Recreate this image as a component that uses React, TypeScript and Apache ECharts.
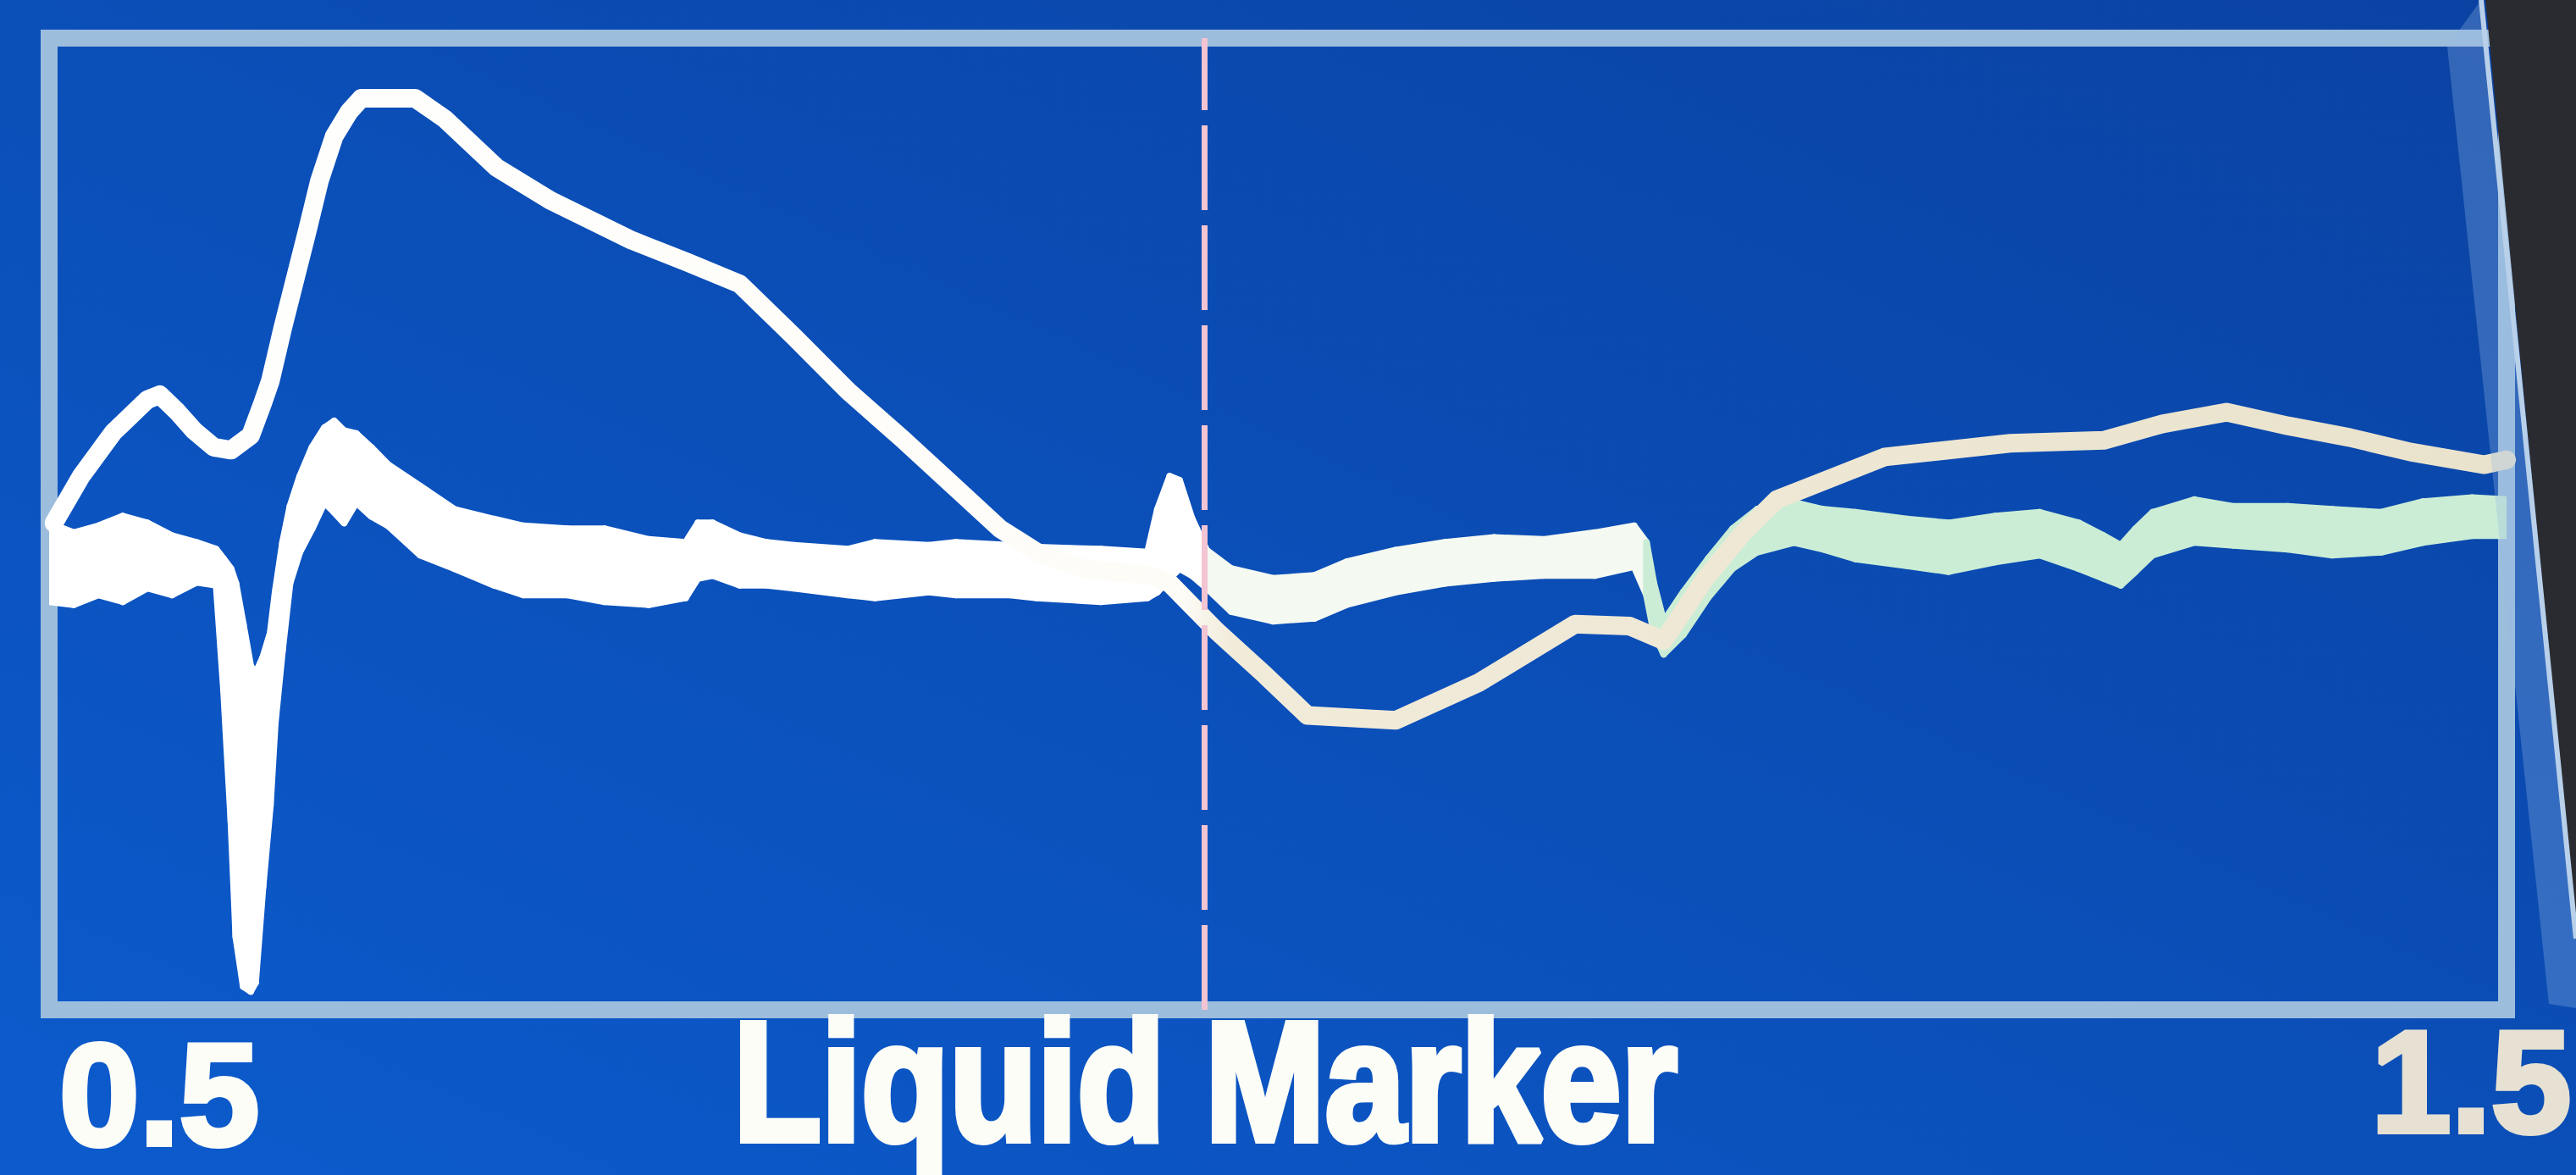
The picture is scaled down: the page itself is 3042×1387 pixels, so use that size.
import React, { useEffect, useRef } from "react";
import * as echarts from "echarts";

const W = 3042;
const H = 1387;

// Axis texts
const xTickLabels = ["0.5", "1.5"];
const axisTitle = "Liquid Marker";
const xRange = [0.5, 1.5];
const yRange = [0, 100];
const markerX = [0.966];

// Smooth trace (large peak)
const peakX = [
  0.502, 0.513, 0.526, 0.54, 0.545, 0.552, 0.559, 0.567, 0.574, 0.582, 0.587, 0.59, 0.595, 0.605,
  0.61, 0.616, 0.622, 0.627, 0.649, 0.661, 0.682, 0.704, 0.737, 0.759, 0.781, 0.803, 0.825, 0.847,
  0.869, 0.887, 0.902, 0.921, 0.948, 0.956, 0.975, 0.995, 1.012, 1.048, 1.082, 1.121, 1.143, 1.157,
  1.174, 1.189, 1.203, 1.223, 1.247, 1.298, 1.336, 1.36, 1.386, 1.411, 1.436, 1.461, 1.491, 1.5,
];
const peakY = [
  50.1, 54.9, 59.4, 62.8, 63.3, 61.6, 59.6, 57.9, 57.6, 59.1, 62.5, 64.7, 70.1, 80.1,
  85.3, 89.9, 92.4, 93.8, 93.8, 91.7, 86.7, 83.3, 79.2, 77.0, 74.7, 69.3, 63.7, 58.8,
  53.7, 49.5, 47.1, 45.4, 44.7, 43.9, 39.0, 34.4, 30.3, 29.8, 33.7, 39.7, 39.5, 38.0,
  44.4, 49.0, 52.5, 54.5, 56.9, 58.3, 58.6, 60.3, 61.5, 60.1, 58.9, 57.4, 56.1, 56.6,
];

// Noisy trace, read as an upper and a lower envelope
const bandX = [
  0.5, 0.51, 0.52, 0.53, 0.54, 0.55, 0.56, 0.568, 0.571, 0.574, 0.576, 0.579, 0.582, 0.584, 0.587,
  0.59, 0.592, 0.595, 0.598, 0.602, 0.607, 0.612, 0.616, 0.62, 0.625, 0.631, 0.638, 0.651, 0.665,
  0.681, 0.693, 0.711, 0.726, 0.744, 0.759, 0.764, 0.77, 0.781, 0.792, 0.803, 0.825, 0.836, 0.858,
  0.869, 0.891, 0.902, 0.928, 0.947, 0.951, 0.956, 0.96, 0.965, 0.971, 0.981, 0.998, 1.015, 1.028,
  1.048, 1.068, 1.088, 1.108, 1.129, 1.145, 1.15, 1.153, 1.157, 1.165, 1.175, 1.185, 1.195, 1.21,
  1.222, 1.235, 1.256, 1.273, 1.292, 1.31, 1.326, 1.336, 1.343, 1.349, 1.356, 1.373, 1.389, 1.411,
  1.429, 1.449, 1.466, 1.486, 1.5,
];
const bandUpper = [
  50.1, 49.1, 49.8, 50.8, 50.1, 48.8, 48.1, 47.4, 46.4, 45.4, 43.9, 39.7, 35.4, 34.6, 36.3,
  38.8, 43.0, 48.1, 51.8, 54.9, 57.9, 59.9, 60.6, 59.6, 59.3, 57.9, 56.1, 53.9, 51.5,
  50.5, 49.8, 49.5, 49.5, 48.4, 48.1, 50.1, 50.1, 48.8, 48.1, 47.8, 47.4, 48.1, 47.8,
  48.1, 47.8, 47.6, 47.4, 47.1, 51.5, 54.9, 54.5, 50.6, 47.3, 45.4, 44.4, 44.7, 46.1,
  47.3, 48.1, 48.6, 48.4, 49.1, 49.8, 48.1, 43.9, 40.0, 43.0, 46.4, 49.5, 51.5, 52.2,
  51.5, 51.2, 50.5, 50.1, 50.8, 51.2, 50.1, 48.8, 47.8, 49.5, 51.2, 52.5, 51.8, 51.8,
  51.5, 51.2, 52.3, 52.7, 52.5,
];
const bandLower = [
  42.0, 41.7, 42.7, 42.0, 43.4, 42.7, 44.0, 43.7, 32.9, 19.4, 7.5, 2.4, 1.9, 2.8, 12.6,
  21.0, 29.5, 37.1, 43.9, 47.1, 49.5, 52.2, 51.2, 50.1, 52.2, 50.8, 49.8, 46.8, 45.4,
  43.7, 42.7, 42.7, 42.0, 41.7, 42.4, 44.4, 44.7, 43.7, 43.7, 43.4, 42.7, 42.4, 43.0,
  42.7, 42.7, 42.4, 42.0, 42.4, 43.0, 44.4, 45.4, 44.7, 43.4, 41.0, 40.0, 40.3, 41.7,
  43.0, 43.9, 44.4, 44.7, 44.7, 45.6, 42.7, 38.8, 36.6, 38.6, 42.4, 45.4, 47.1, 48.1,
  47.4, 46.4, 45.7, 45.1, 46.1, 46.8, 45.4, 44.4, 43.7, 45.1, 46.8, 48.1, 47.8, 47.4,
  46.8, 47.1, 48.1, 48.8, 48.8,
];

function bandColor(x: number) {
  if (x < 0.97) return "#ffffff";
  if (x < 1.15) return "#f4f9f1";
  return "#cbedd6";
}

export default function App() {
  const ref = useRef<HTMLDivElement>(null);

  useEffect(() => {
    if (!ref.current) return;
    const chart = echarts.init(ref.current, null, { renderer: "svg", width: W, height: H });

    const renderBand = (params: any, api: any) => {
      const i = params.dataIndex;
      if (i >= bandX.length - 1) return { type: "group", children: [] };
      const x0 = api.value(0);
      const p1 = api.coord([x0, api.value(1)]);
      const p2 = api.coord([bandX[i + 1], bandUpper[i + 1]]);
      const p3 = api.coord([bandX[i + 1], bandLower[i + 1]]);
      const p4 = api.coord([x0, api.value(2)]);
      const c = bandColor((x0 + bandX[i + 1]) / 2);
      return {
        type: "polygon",
        shape: { points: [p1, p2, p3, p4] },
        style: { fill: c, stroke: c, lineWidth: 8, lineJoin: "round" },
      };
    };

    const textStyle = (text: string, size: number, fill: string, stroke: number) => ({
      text,
      fill,
      stroke: fill,
      lineWidth: stroke,
      lineJoin: "round",
      font: `bold ${size}px "Liberation Sans", Arial, sans-serif`,
      align: "left",
      verticalAlign: "middle",
      textAlign: "left",
      textVerticalAlign: "middle",
    });

    const option: any = {
      animation: false,
      grid: {
        left: 58,
        top: 45,
        width: 2902,
        height: 1147,
        show: true,
        borderColor: "#9dbddd",
        borderWidth: 20,
        backgroundColor: "transparent",
      },
      xAxis: { type: "value", min: xRange[0], max: xRange[1], show: false },
      yAxis: { type: "value", min: yRange[0], max: yRange[1], show: false },
      series: [
        {
          type: "custom",
          name: "Signal B",
          data: bandX.map((x, i) => [x, bandUpper[i], bandLower[i]]),
          encode: { x: 0, y: [1, 2] },
          renderItem: renderBand,
          clip: true,
          silent: true,
          z: 3,
        },
        {
          type: "line",
          name: "Signal A",
          data: peakX.map((x, i) => [x, peakY[i]]),
          symbol: "none",
          showSymbol: false,
          silent: true,
          z: 4,
          lineStyle: {
            width: 22,
            cap: "round",
            join: "round",
            color: new echarts.graphic.LinearGradient(0, 0, 1, 0, [
              { offset: 0, color: "#ffffff" },
              { offset: 0.46, color: "#fdfcf7" },
              { offset: 0.48, color: "#f1ebda" },
              { offset: 1, color: "#e9e2cc" },
            ]),
          },
          markLine: {
            silent: true,
            symbol: ["none", "none"],
            label: { show: false },
            lineStyle: { color: "#f3c4d2", width: 7, type: [100, 18] },
            data: [{ xAxis: markerX[0] }],
          },
        },
      ],
      graphic: {
        elements: [
          {
            type: "rect",
            z: -100,
            silent: true,
            shape: { x: 0, y: 0, width: W, height: H },
            style: {
              fill: new echarts.graphic.LinearGradient(0, 1, 1, 0, [
                { offset: 0, color: "#0c5bcd" },
                { offset: 1, color: "#0a42a2" },
              ]),
            },
          },
          {
            type: "polygon",
            z: 50,
            silent: true,
            shape: { points: [[2890, 55], [2930, 0], [3042, 1110], [3042, 1190], [3010, 1185]] },
            style: { fill: "rgba(150,185,228,0.30)" },
          },
          {
            type: "polygon",
            z: 51,
            silent: true,
            shape: { points: [[2935, 0], [3042, 0], [3042, 1100]] },
            style: { fill: "#2a2b30" },
          },
          {
            type: "line",
            z: 52,
            silent: true,
            shape: { x1: 2930, y1: 0, x2: 3042, y2: 1108 },
            style: { stroke: "#b9d0ea", lineWidth: 6 },
          },
          {
            type: "text",
            z: 60,
            x: 70,
            y: 1292,
            silent: true,
            style: textStyle(xTickLabels[0], 170, "#fdfdf8", 6),
          },
          {
            type: "text",
            z: 60,
            x: 866,
            y: 1276,
            scaleX: 0.85,
            silent: true,
            style: textStyle(axisTitle, 200, "#fdfdf8", 8),
          },
          {
            type: "text",
            z: 60,
            x: 2800,
            y: 1277,
            silent: true,
            style: textStyle(xTickLabels[1], 170, "#e6e1d2", 6),
          },
        ],
      },
    };

    chart.setOption(option);
    return () => chart.dispose();
  }, []);

  return <div ref={ref} style={{ position: "fixed", left: 0, top: 0, width: W, height: H }} />;
}
